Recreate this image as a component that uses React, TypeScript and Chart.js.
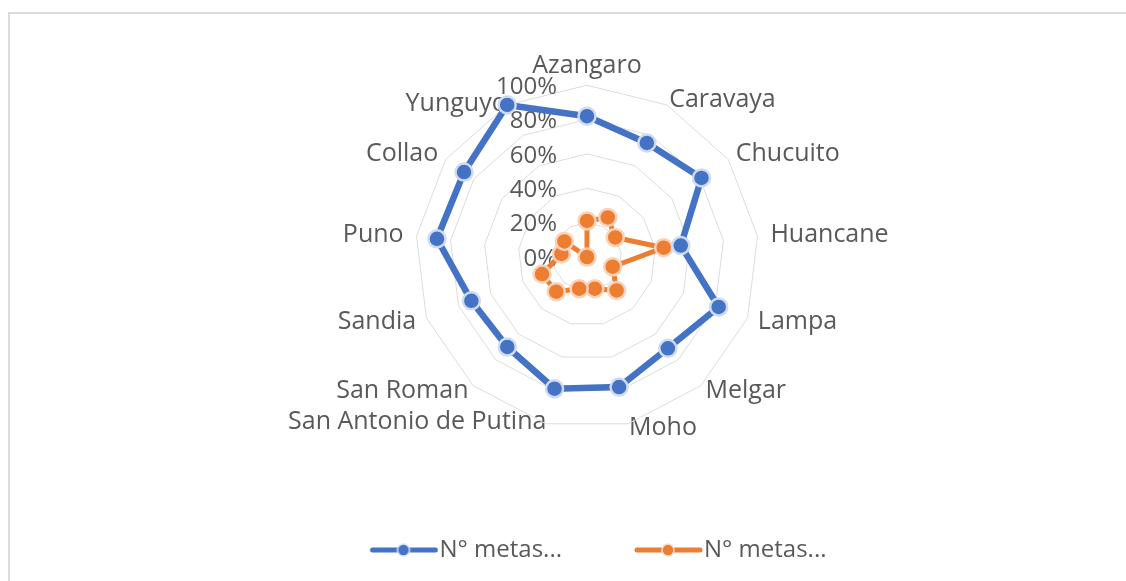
import { useEffect, useRef } from 'react';
import { Chart, registerables, layouts } from 'chart.js';

Chart.register(...registerables);

// ---- data ----
const CATEGORIES = [
  'Azangaro',
  'Caravaya',
  'Chucuito',
  'Huancane',
  'Lampa',
  'Melgar',
  'Moho',
  'San Antonio de Putina',
  'San Roman',
  'Sandia',
  'Puno',
  'Collao',
  'Yunguyo',
];
const SERIES_NAMES = ['N° metas...', 'N° metas...'];
const SERIES_BLUE = [0.82, 0.75, 0.81, 0.55, 0.82, 0.71, 0.78, 0.79, 0.7, 0.72, 0.88, 0.87, 1.0];
const SERIES_ORANGE = [0.21, 0.26, 0.2, 0.45, 0.16, 0.26, 0.19, 0.19, 0.27, 0.28, 0.15, 0.16, 0.0];
const TICK_LABELS = ['0%', '20%', '40%', '60%', '80%', '100%'];

// ---- style ----
const LABEL_PAD = [19, 5, 9, 13, 11, 7, 4, -2, 7, 11, 13, 9, 1];
const FONT = "'Open Sans', sans-serif";
const TEXT = '#595959';
const BLUE = '#4472C4';
const ORANGE = '#ED7D31';
const GAP = 33;

function legendIcon(color: string, ring: string): HTMLCanvasElement {
  const c = document.createElement('canvas');
  c.width = 86;
  c.height = 18;
  const g = c.getContext('2d')!;
  g.strokeStyle = color;
  g.lineWidth = 5;
  g.lineCap = 'round';
  g.beginPath();
  g.moveTo(20, 9);
  g.lineTo(83, 9);
  g.stroke();
  g.beginPath();
  g.arc(51, 9, 6, 0, Math.PI * 2);
  g.fillStyle = color;
  g.fill();
  g.lineWidth = 1.5;
  g.strokeStyle = ring;
  g.stroke();
  return c;
}

const gapPlugin = {
  id: 'legendGap',
  beforeInit(chart: any) {
    const box: any = {
      position: 'bottom',
      weight: 0,
      fullSize: false,
      options: {},
      left: 0,
      top: 0,
      right: 0,
      bottom: 0,
      width: 0,
      height: 0,
      update(maxWidth: number) {
        this.width = maxWidth;
        this.height = GAP;
      },
      isHorizontal() {
        return true;
      },
      draw() {},
    };
    layouts.addBox(chart, box);
  },
};

const tickLabelPlugin = {
  id: 'tickLabels',
  beforeDatasetsDraw(chart: any) {
    const s = chart.scales.r;
    const ctx = chart.ctx;
    ctx.save();
    ctx.font = `24px ${FONT}`;
    ctx.fillStyle = TEXT;
    ctx.textAlign = 'right';
    ctx.textBaseline = 'middle';
    s.ticks.forEach((t: any, i: number) => {
      const y = s.yCenter - s.getDistanceFromCenterForValue(t.value);
      ctx.fillText(TICK_LABELS[i] ?? '', s.xCenter - 30, y + 2);
    });
    ctx.restore();
  },
};

export default function App() {
  const ref = useRef<HTMLCanvasElement>(null);

  useEffect(() => {
    if (!ref.current) return;
    const icons = [legendIcon(BLUE, '#dbe4f5'), legendIcon(ORANGE, '#fbe0cf')];
    const chart = new Chart(ref.current, {
      type: 'radar',
      data: {
        labels: CATEGORIES,
        datasets: [
          {
            label: SERIES_NAMES[0],
            data: SERIES_BLUE,
            borderColor: BLUE,
            backgroundColor: BLUE,
            borderWidth: 6.5,
            borderJoinStyle: 'round',
            pointRadius: 8.5,
            pointBorderWidth: 2.5,
            pointBackgroundColor: BLUE,
            pointBorderColor: '#cfdbf1',
            fill: false,
          },
          {
            label: SERIES_NAMES[1],
            data: SERIES_ORANGE,
            borderColor: ORANGE,
            backgroundColor: ORANGE,
            borderWidth: 5,
            borderJoinStyle: 'round',
            pointRadius: 8.5,
            pointBorderWidth: 2.5,
            pointBackgroundColor: ORANGE,
            pointBorderColor: '#f8d3b9',
            fill: false,
          },
        ],
      },
      options: {
        responsive: false,
        animation: false,
        layout: { padding: { left: 289, right: 225, top: 57, bottom: 9 } },
        elements: { line: { tension: 0 } },
        scales: {
          r: {
            min: 0,
            max: 1,
            ticks: { display: false, stepSize: 0.2 },
            grid: { color: '#dcdcdc', lineWidth: 1 },
            angleLines: { display: false },
            pointLabels: {
              display: true,
              color: TEXT,
              font: { family: FONT, size: 25, lineHeight: 0.01 },
              padding: (ctx: any) => LABEL_PAD[ctx.index] ?? 5,
            },
          },
        },
        plugins: {
          legend: {
            position: 'bottom',
            labels: {
              usePointStyle: true,
              pointStyleWidth: 64,
              boxHeight: 14,
              padding: 66,
              color: TEXT,
              font: { family: FONT, size: 24 },
              generateLabels: (c: any) => {
                const items = (Chart as any).defaults.plugins.legend.labels.generateLabels(c);
                return items.map((it: any, i: number) => ({ ...it, pointStyle: icons[i] }));
              },
            },
          },
          tooltip: { enabled: false },
        },
      } as any,
      plugins: [gapPlugin, tickLabelPlugin],
    });

    const fonts = (document as any).fonts;
    if (fonts && fonts.load) {
      fonts.load(`24px "Open Sans"`).then(() => chart.update()).catch(() => {});
    }
    return () => {
      chart.destroy();
    };
  }, []);

  return (
    <div
      style={{
        position: 'fixed',
        left: 0,
        top: 0,
        width: 1126,
        height: 581,
        overflow: 'hidden',
        background: '#ffffff',
      }}
    >
      <div
        style={{
          position: 'absolute',
          left: 8,
          top: 12,
          width: 3000,
          height: 1000,
          borderTop: '2px solid #dcdcdc',
          borderLeft: '2px solid #dcdcdc',
          boxSizing: 'border-box',
        }}
      />
      <canvas
        ref={ref}
        width={1126}
        height={581}
        style={{ position: 'absolute', left: 0, top: 0 }}
      />
    </div>
  );
}
